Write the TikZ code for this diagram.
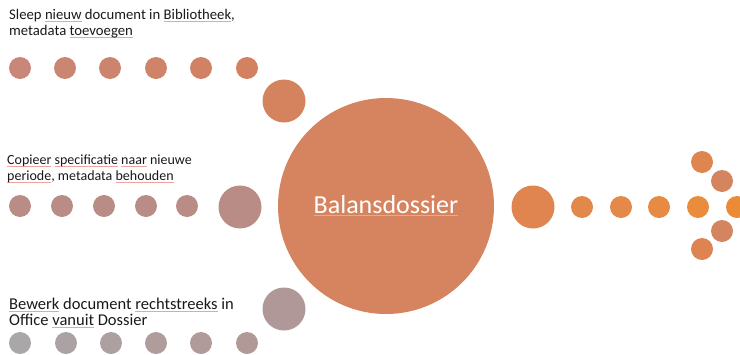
\documentclass[tikz,border=0pt]{standalone}
\usepackage{fontspec}
\setmainfont{Carlito}
\definecolor{cBig}{HTML}{D5845F}
\definecolor{tA}{HTML}{C88779}\definecolor{tB}{HTML}{CB8573}\definecolor{tC}{HTML}{CD846D}
\definecolor{tD}{HTML}{CF8368}\definecolor{tE}{HTML}{D28264}\definecolor{tF}{HTML}{D38160}
\definecolor{tG}{HTML}{D5825F}
\definecolor{mA}{HTML}{B98D86}\definecolor{mG}{HTML}{BA8C86}
\definecolor{bA}{HTML}{A9A7A7}\definecolor{bB}{HTML}{ABA3A3}\definecolor{bC}{HTML}{ADA0A0}
\definecolor{bD}{HTML}{AF9D9C}\definecolor{bE}{HTML}{B09B9A}\definecolor{bF}{HTML}{B19998}
\definecolor{bG}{HTML}{AF9897}
\definecolor{rG}{HTML}{E0854F}\definecolor{rA}{HTML}{E2884A}\definecolor{rB}{HTML}{E5894A}
\definecolor{rC}{HTML}{E78A44}\definecolor{rD}{HTML}{E98D3C}\definecolor{rE}{HTML}{EC8B36}
\definecolor{rU}{HTML}{DF8550}\definecolor{rV}{HTML}{D4855F}\definecolor{rW}{HTML}{D4845F}\definecolor{rX}{HTML}{DD8452}
\definecolor{spell}{HTML}{F2A0A0}
\newcommand\spl[1]{\leavevmode\setbox0\hbox{#1}\rlap{\textcolor{spell}{\rule[-2.2pt]{\wd0}{0.7pt}}}\box0\relax}
\tikzset{
  dot/.style={circle,inner sep=0pt,minimum size=22pt,draw=none,fill=#1},
  bigdot/.style={circle,inner sep=0pt,minimum size=43pt,draw=none,fill=#1},
  lbl/.style={anchor=north west,inner sep=0pt,align=left,text=black!90}
}
\begin{document}
\begin{tikzpicture}[x=1pt,y=-1pt]
\useasboundingbox (0,0) rectangle (740,354);
% centre
\node[circle,inner sep=0pt,minimum size=216pt,fill=cBig,text=white,font=\fontsize{26}{30}\selectfont] (centre) at (386,206) {\spl{Balansdossier}};
% top row
\node[dot=tA] (t1) at (20,68) {};
\node[dot=tB] (t2) at (65,68) {};
\node[dot=tC] (t3) at (110,68) {};
\node[dot=tD] (t4) at (156,68) {};
\node[dot=tE] (t5) at (201,68) {};
\node[dot=tF] (t6) at (247,68) {};
\node[bigdot=tG] (t7) at (284,101) {};
\node[lbl,font=\fontsize{14.7}{15.5}\selectfont] (ttext) at (9,9.5) {Sleep \spl{nieuw} document in \spl{Bibliotheek},\\metadata \spl{toevoegen}};
% middle row
\node[dot=mA] (m1) at (20,206) {};
\node[dot=mA] (m2) at (62,206) {};
\node[dot=mA] (m3) at (104,206) {};
\node[dot=mA] (m4) at (146,206) {};
\node[dot=mA] (m5) at (187,206) {};
\node[bigdot=mG] (m6) at (240,207) {};
\node[lbl,font=\fontsize{14}{15.5}\selectfont] (mtext) at (7,155) {\spl{Copieer} \spl{specificatie} \spl{naar} nieuwe\\\spl{periode}, metadata \spl{behouden}};
% bottom row
\node[dot=bA] (b1) at (20,343) {};
\node[dot=bB] (b2) at (66,343) {};
\node[dot=bC] (b3) at (111,343) {};
\node[dot=bD] (b4) at (156,343) {};
\node[dot=bE] (b5) at (201,343) {};
\node[dot=bF] (b6) at (247,343) {};
\node[bigdot=bG] (b7) at (284,309) {};
\node[lbl,font=\fontsize{16.5}{16}\selectfont] (btext) at (9,298) {\spl{Bewerk} document \spl{rechtstreeks} in\\Office \spl{vanuit} Dossier};
% right row
\node[bigdot=rG] (r0) at (533,207) {};
\node[dot=rA] (r1) at (582,207) {};
\node[dot=rB] (r2) at (621,207) {};
\node[dot=rC] (r3) at (659,207) {};
\node[dot=rD] (r4) at (698,207) {};
\node[dot=rE] (r5) at (737,207) {};
\node[dot=rU] (a1) at (702,162) {};
\node[dot=rV] (a2) at (722,181) {};
\node[dot=rW] (a3) at (722,231) {};
\node[dot=rX] (a4) at (702,249) {};
\end{tikzpicture}
\end{document}
